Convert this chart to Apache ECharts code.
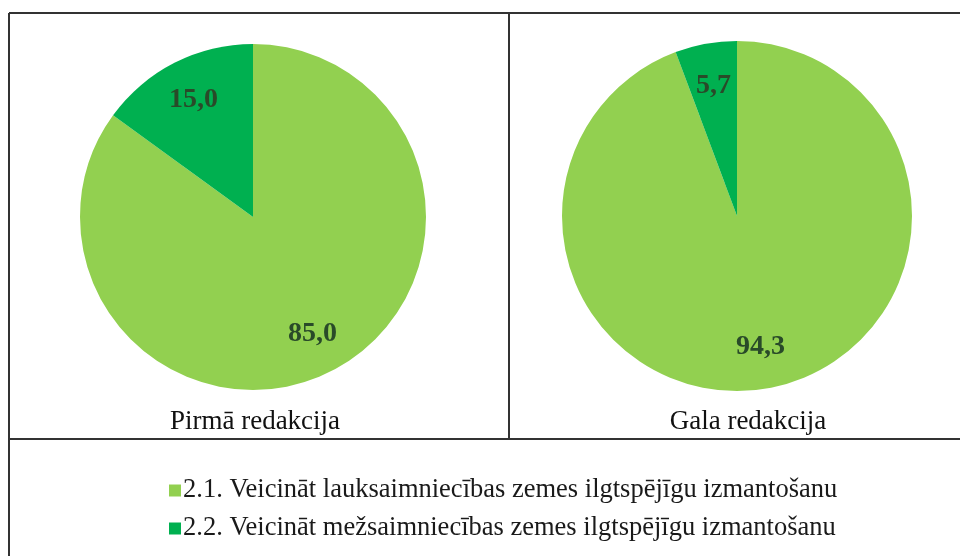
<!DOCTYPE html>
<html>
<head>
<meta charset="utf-8">
<script src="https://cdn.jsdelivr.net/npm/echarts@6/dist/echarts.min.js"></script>
<style>html,body{margin:0;padding:0;background:#fff}#c{width:960px;height:556px}</style>
</head>
<body>
<div id="c"></div>
<script>
const categories = ['2.1. Veicināt lauksaimniecības zemes ilgtspējīgu izmantošanu', '2.2. Veicināt mežsaimniecības zemes ilgtspējīgu izmantošanu'];
const chartTitles = ['Pirmā redakcija', 'Gala redakcija'];
const firstValues = [85.0, 15.0];
const finalValues = [94.3, 5.7];
const colors = ['#92D050', '#00B050'];

const chart = echarts.init(document.getElementById('c'));
const serif = '"Liberation Serif", "Times New Roman", serif';
const mk = vals => categories.map((n, i) => ({ name: n, value: vals[i], itemStyle: { color: colors[i] } }));
const mkLabel = vals => categories.map((n, i) => ({ name: n, value: vals[i], itemStyle: { color: 'rgba(0,0,0,0)' } }));

const pies = [
  { vals: firstValues, center: [253, 217], r: 173 },
  { vals: finalValues, center: [737, 216], r: 175 }
];
const series = [];
pies.forEach(p => {
  series.push({
    type: 'pie', center: p.center, radius: [0, p.r], startAngle: 90, clockwise: true,
    data: mk(p.vals), label: { show: false }, labelLine: { show: false },
    silent: true, animation: false, emphasis: { disabled: true }
  });
});
pies.forEach(p => {
  series.push({
    type: 'pie', center: p.center, radius: [p.r * 0.48, p.r], startAngle: 90, clockwise: true,
    data: mkLabel(p.vals), silent: true, animation: false, emphasis: { disabled: true },
    legendHoverLink: false,
    label: {
      show: true, position: 'inside', color: '#294a29', fontFamily: serif, fontWeight: 'bold', fontSize: 28,
      formatter: q => q.value.toFixed(1).replace('.', ',')
    },
    labelLine: { show: false }
  });
});

const lineStyle = { stroke: '#333', lineWidth: 2 };
chart.setOption({
  animation: false,
  title: [
    { text: chartTitles[0], left: 250, top: 403, textAlign: 'center', textStyle: { fontFamily: serif, fontWeight: 'normal', fontSize: 27, color: '#111' } },
    { text: chartTitles[1], left: 743, top: 403, textAlign: 'center', textStyle: { fontFamily: serif, fontWeight: 'normal', fontSize: 27, color: '#111' } }
  ],
  legend: {
    orient: 'vertical', left: 164, top: 472, icon: 'rect', itemWidth: 12, itemHeight: 12, itemGap: 11,
    selectedMode: false,
    data: categories.map((n, i) => ({ name: n, itemStyle: { color: colors[i] } })),
    textStyle: { fontFamily: serif, fontSize: 26.5, color: '#1a1a1a', padding: [0, 0, 0, -3] }
  },
  series: series,
  graphic: [
    { type: 'line', shape: { x1: 9, y1: 13, x2: 960, y2: 13 }, style: lineStyle, silent: true },
    { type: 'line', shape: { x1: 9, y1: 13, x2: 9, y2: 556 }, style: lineStyle, silent: true },
    { type: 'line', shape: { x1: 509, y1: 13, x2: 509, y2: 439 }, style: lineStyle, silent: true },
    { type: 'line', shape: { x1: 9, y1: 439, x2: 960, y2: 439 }, style: lineStyle, silent: true }
  ]
});
</script>
</body>
</html>
